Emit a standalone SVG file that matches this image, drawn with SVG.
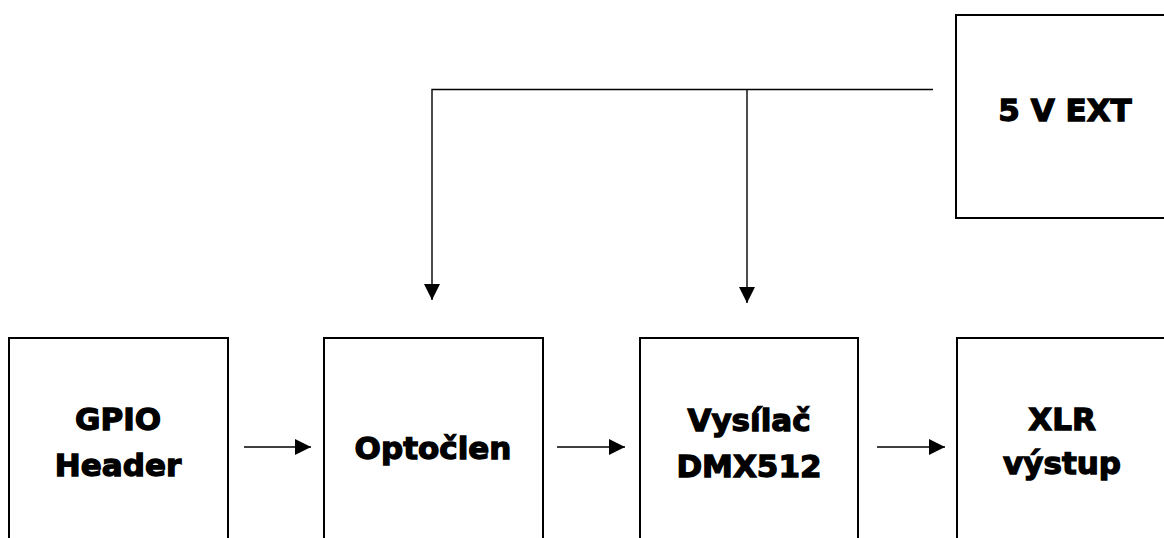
<svg xmlns="http://www.w3.org/2000/svg" width="1164" height="538" viewBox="0 0 1164 538">
<defs>
<marker id="ah" markerWidth="17" markerHeight="17" refX="16" refY="8" orient="auto" markerUnits="userSpaceOnUse">
<path d="M0,0 L16,8 L0,16 Z" fill="#000"/>
</marker>
<style>
.box{fill:#fff;stroke:#000;stroke-width:2}
.lbl{font-family:"DejaVu Sans","Liberation Sans",sans-serif;font-weight:bold;font-size:31px;fill:#000;stroke:#000;stroke-width:1.3;text-anchor:middle}
.con{fill:none;stroke:#000;stroke-width:1.4}
</style>
</defs>
<rect width="1164" height="538" fill="#fff"/>
<g id="ext5v"><rect class="box" x="956" y="15" width="220" height="203"/><text class="lbl" x="1065" y="121">5 V EXT</text></g>
<g id="gpio"><rect class="box" x="9" y="338" width="219" height="220"/><text class="lbl" x="118" y="430">GPIO</text><text class="lbl" x="118" y="476">Header</text></g>
<g id="opto"><rect class="box" x="324" y="338" width="219" height="220"/><text class="lbl" x="433" y="459">Optočlen</text></g>
<g id="dmx"><rect class="box" x="640" y="338" width="218" height="220"/><text class="lbl" x="749" y="431">Vysílač</text><text class="lbl" x="749" y="477">DMX512</text></g>
<g id="xlr"><rect class="box" x="957" y="338" width="220" height="220"/><text class="lbl" x="1062" y="430">XLR</text><text class="lbl" x="1062" y="474">výstup</text></g>
<g id="connectors">
<path class="con" d="M933,89.5 H432 V300" marker-end="url(#ah)"/>
<path class="con" d="M747,89.5 V303" marker-end="url(#ah)"/>
<path class="con" d="M244,447 H311" marker-end="url(#ah)"/>
<path class="con" d="M557,447 H625" marker-end="url(#ah)"/>
<path class="con" d="M877,447 H945" marker-end="url(#ah)"/>
</g>
</svg>
